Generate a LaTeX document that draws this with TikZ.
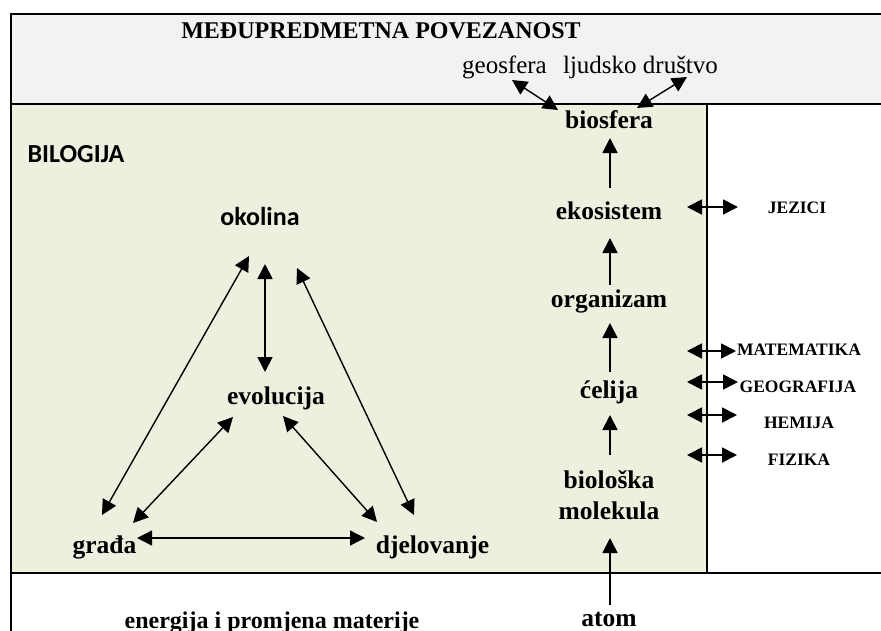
\documentclass[tikz,border=0pt]{standalone}
\usepackage{fontspec}
\setmainfont{Liberation Serif}
\newfontfamily\calib{Carlito}
\usetikzlibrary{arrows.meta}
\definecolor{bandgray}{HTML}{F2F2F2}
\definecolor{biogreen}{HTML}{EBF1DE}
\begin{document}
\begin{tikzpicture}[x=1pt,y=-1pt,
  frame/.style={line width=2.2pt, line cap=rect},
  lbl/.style={font=\bfseries\fontsize{25.5}{28}\selectfont, inner sep=0pt, anchor=base},
  thin/.style={font=\fontsize{25}{28}\selectfont, inner sep=0pt, anchor=base},
  ttl/.style={font=\bfseries\fontsize{24}{28}\selectfont, inner sep=0pt, anchor=base},
  subj/.style={font=\bfseries\fontsize{17.5}{20}\selectfont, inner sep=0pt, anchor=base},
  cal/.style={font=\calib\bfseries\fontsize{26}{30}\selectfont, inner sep=0pt, anchor=base},
  uparr/.style={-{Triangle[length=15pt,width=15pt]}, line width=1.8pt},
  darr/.style={{Triangle[length=15pt,width=15pt]}-{Triangle[length=15pt,width=15pt]}, line width=1.4pt},
  varr/.style={{Triangle[length=15pt,width=15pt]}-{Triangle[length=15pt,width=15pt]}, line width=1.8pt}]
\useasboundingbox (0,0) rectangle (881,630);
\fill[white] (0,0) rectangle (881,630);
% areas
\fill[bandgray] (11,14) rectangle (881,104);
\fill[biogreen] (11,104) rectangle (707,573);
\draw[frame] (881,14) -- (11,14) -- (11,632);
\draw[frame] (11,104) -- (881,104);
\draw[frame] (11,573) -- (881,573);
\draw[frame] (707,104) -- (707,573);
% top band
\node[ttl] (title) at (381,38) {MEĐUPREDMETNA POVEZANOST};
\node[thin] (geo) at (504.5,73) {geosfera};
\node[thin] (ljud) at (640.5,73) {ljudsko društvo};
% column
\node[lbl] (bio) at (609,128) {biosfera};
\node[lbl] (eko) at (609,219) {ekosistem};
\node[lbl] (org) at (609,307) {organizam};
\node[lbl] (cel) at (609,398) {ćelija};
\node[lbl] (bl1) at (609,488) {biološka};
\node[lbl] (mol) at (609,519) {molekula};
\node[lbl] (atom) at (609,626) {atom};
% left part
\node[cal] (bilo) at (76,162) {BILOGIJA};
\node[cal] (oko) at (260,225) {okolina};
\node[lbl] (evo) at (276,404) {evolucija};
\node[lbl] (gra) at (104.5,553) {građa};
\node[lbl] (dje) at (432.5,553) {djelovanje};
\node[lbl, font=\bfseries\fontsize{24}{28}\selectfont] (ener) at (272,628) {energija i promjena materije};
% subjects
\node[subj] (jez) at (797,213) {JEZICI};
\node[subj] (mat) at (799,355) {MATEMATIKA};
\node[subj] (geog) at (798,392) {GEOGRAFIJA};
\node[subj] (hem) at (799,428) {HEMIJA};
\node[subj] (fiz) at (799,465) {FIZIKA};
% top arrows
\draw[darr] ([shift={(7.5,7)}]geo.base) -- ([shift={(-51,-18)}]bio.base);
\draw[darr] ([shift={(46.5,4)}]ljud.base) -- ([shift={(28,-20)}]bio.base);
% column arrows
\draw[uparr] ([shift={(1,-31)}]eko.base) -- ([shift={(1,10)}]bio.base);
\draw[uparr] ([shift={(1,-22)}]org.base) -- ([shift={(1,19)}]eko.base);
\draw[uparr] ([shift={(1,-26)}]cel.base) -- ([shift={(1,16)}]org.base);
\draw[uparr] ([shift={(1,-33)}]bl1.base) -- ([shift={(1,17)}]cel.base);
\draw[uparr] ([shift={(1,-21)}]atom.base) -- ([shift={(1,19)}]mol.base);
% triangle arrows
\draw[darr] ([shift={(-11,31)}]oko.base) -- ([shift={(-2.5,-38)}]gra.base);
\draw[varr] ([shift={(5,39)}]oko.base) -- ([shift={(-11,-32)}]evo.base);
\draw[darr] ([shift={(37,43)}]oko.base) -- ([shift={(-18.5,-38)}]dje.base);
\draw[darr] ([shift={(-43,13)}]evo.base) -- ([shift={(28.5,-30)}]gra.base);
\draw[darr] ([shift={(7,12)}]evo.base) -- ([shift={(-55.5,-31)}]dje.base);
\draw[darr] ([shift={(32.5,-15)}]gra.base) -- ([shift={(-67.5,-15)}]dje.base);
% subject arrows
\draw[varr] ([shift={(-110,-6)}]jez.base) -- ([shift={(-59,-6)}]jez.base);
\draw[varr] ([shift={(-112,-4)}]mat.base) -- ([shift={(-63,-4)}]mat.base);
\draw[varr] ([shift={(-111,-10)}]geog.base) -- ([shift={(-60,-10)}]geog.base);
\draw[varr] ([shift={(-112,-13)}]hem.base) -- ([shift={(-62,-13)}]hem.base);
\draw[varr] ([shift={(-112,-10)}]fiz.base) -- ([shift={(-62,-10)}]fiz.base);
\end{tikzpicture}
\end{document}
